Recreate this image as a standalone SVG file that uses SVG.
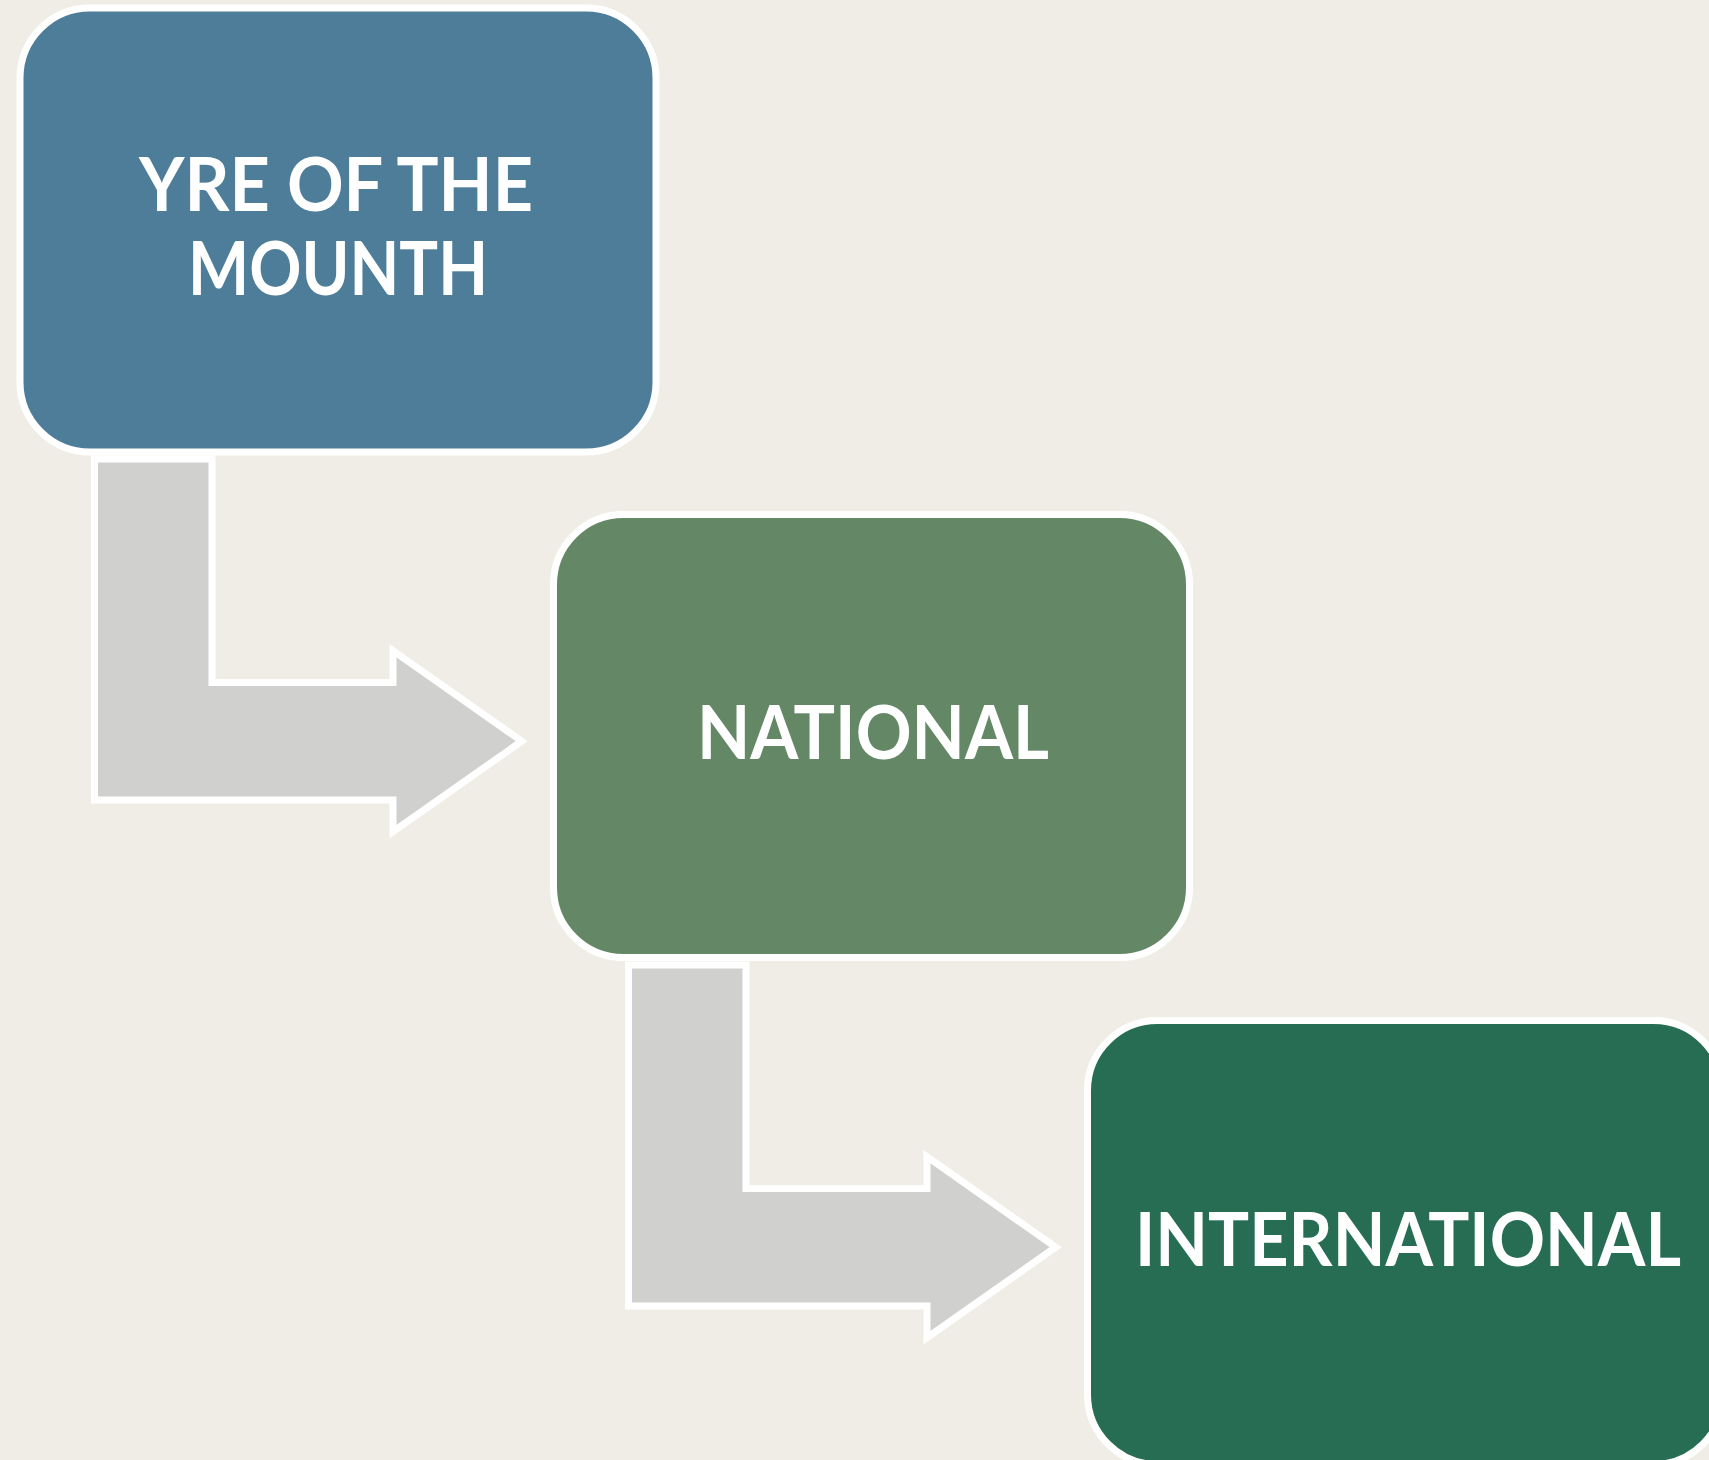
<svg xmlns="http://www.w3.org/2000/svg" width="1709" height="1460" viewBox="0 0 1709 1460">
<style>
.box{stroke:#ffffff;stroke-width:7}
.conn{fill:#d0d0ce;stroke:#ffffff;stroke-width:7;stroke-linejoin:miter}
.lbl{font-family:Lato,"Open Sans","Liberation Sans",sans-serif;font-weight:700;font-size:74px;fill:#ffffff;text-anchor:middle}
</style>
<rect width="1709" height="1460" fill="#efede5"/>
<g id="connectors">
<polygon class="conn" points="94.5,459 212,459 212,682.5 393,682.5 393,650.7 521.7,741.2 393,831.7 393,800 94.5,800"/>
<polygon class="conn" transform="translate(534,506)" points="94.5,459 212,459 212,682.5 393,682.5 393,650.7 521.7,741.2 393,831.7 393,800 94.5,800"/>
</g>
<g id="node-yre">
<rect class="box" x="20" y="8" width="636" height="444" rx="70" ry="70" fill="#4e7d99"/>
<text class="lbl" x="336" y="211" textLength="394" lengthAdjust="spacingAndGlyphs">YRE OF THE</text>
<text class="lbl" x="338" y="295" textLength="300" lengthAdjust="spacingAndGlyphs">MOUNTH</text>
</g>
<g id="node-national">
<rect class="box" x="553.5" y="514.5" width="636" height="443" rx="70" ry="70" fill="#648866"/>
<text class="lbl" x="873" y="759" textLength="352" lengthAdjust="spacingAndGlyphs">NATIONAL</text>
</g>
<g id="node-international">
<rect class="box" x="1087.5" y="1020.5" width="636" height="444" rx="70" ry="70" fill="#276d54"/>
<text class="lbl" x="1408" y="1266" textLength="546" lengthAdjust="spacingAndGlyphs">INTERNATIONAL</text>
</g>
</svg>
